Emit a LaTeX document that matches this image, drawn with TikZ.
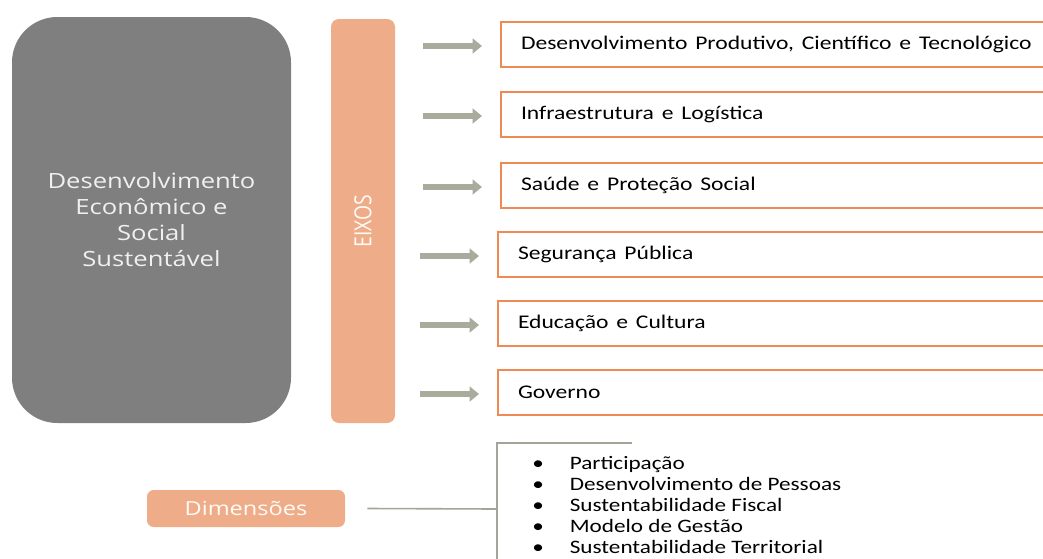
\documentclass[tikz,border=0pt]{standalone}
\usepackage{fontspec}
\setmainfont{Carlito}
\newfontfamily\opensans{Open Sans}
\usepackage{graphicx}
\usetikzlibrary{arrows.meta}
\usetikzlibrary{positioning}

\definecolor{cinza}{HTML}{7F7F7F}
\definecolor{salmao}{HTML}{EEAD88}
\definecolor{laranja}{HTML}{F08A55}
\definecolor{setacor}{HTML}{A9AB9C}
\definecolor{linhacor}{HTML}{A3A597}

% the source picture is stretched sideways
\newcommand{\largo}[1]{\scalebox{1.22}[1]{#1}}

\begin{document}
\begin{tikzpicture}[x=0.75pt,y=-0.75pt,
    blococinza/.style={fill=cinza,rounded corners=34pt,minimum width=209.25pt,minimum height=304.5pt,
        text=white!94!black,align=center,font=\opensans\fontsize{15.75}{19.5}\selectfont},
    barra/.style={fill=salmao,rounded corners=6pt,minimum width=48pt,minimum height=303pt,
        text=white!95!salmao,font=\opensans\fontsize{14.5}{16}\selectfont},
    eixo/.style={draw=laranja,line width=1.5pt,fill=white,anchor=west,minimum height=33.75pt,
        text width=430pt,align=left,inner xsep=15pt,font=\fontsize{14.5}{16}\selectfont},
    seta/.style={setacor,line width=4.5pt,-{Triangle[length=7pt,width=11pt]}},
    linha/.style={linhacor,line width=1.2pt}]
  \useasboundingbox (0,0) rectangle (1043,558);

  \node[blococinza] (base) at (151.5,220) {\largo{Desenvolvimento}\\\largo{Econômico e}\\\largo{Social}\\\largo{Sustentável}};
  \node[barra] (eixos) at (363,221) {\rotatebox{90}{\scalebox{1}[1.22]{EIXOS}}};

  \node[eixo] (e1) at (500,44) {\largo{Desenvolvimento Produtivo, Científico e Tecnológico}};
  \node[eixo] (e2) at (500,114) {\largo{Infraestrutura e Logística}};
  \node[eixo] (e3) at (500,185) {\largo{Saúde e Proteção Social}};
  \node[eixo] (e4) at (497,254) {\largo{Segurança Pública}};
  \node[eixo] (e5) at (497,323) {\largo{Educação e Cultura}};
  \node[eixo] (e6) at (497,392) {\largo{Governo}};

  \foreach \i in {1,...,6}
    \draw[seta] ([xshift=-57.75pt,yshift=-1.5pt]e\i.west) -- ([xshift=-13.5pt,yshift=-1.5pt]e\i.west);

  \node[fill=salmao,rounded corners=5pt,minimum width=148.5pt,minimum height=27.75pt,
        text=white!95!salmao,font=\opensans\fontsize{14.5}{16}\selectfont] (dim) at (246,508.5) {\largo{Dimensões}};

  \coordinate (chave) at (497,509);
  \coordinate (chavetopo) at (632,443);
  \coordinate (chavebase) at (497,560);
  \draw[linha] ([xshift=16.5pt]dim.east) -- (chave);
  \draw[linha] (chavetopo) -| (chavebase);

  \node[anchor=north west,inner sep=0pt,font=\fontsize{14.25}{15.9}\selectfont] (lista) at (532,454)
    {\largo{\begin{tabular}{@{}l@{\hspace{16pt}}l@{}}
      \textbullet & Participação\\
      \textbullet & Desenvolvimento de Pessoas\\
      \textbullet & Sustentabilidade Fiscal\\
      \textbullet & Modelo de Gestão\\
      \textbullet & Sustentabilidade Territorial
    \end{tabular}}};
\end{tikzpicture}
\end{document}
